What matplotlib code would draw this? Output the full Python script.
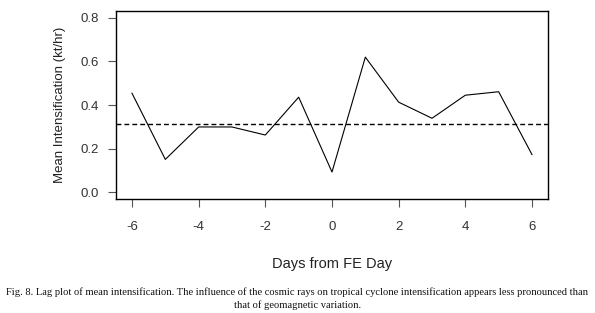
import matplotlib
matplotlib.use("Agg")
import matplotlib.pyplot as plt

# lag data
days = [-6, -5, -4, -3, -2, -1, 0, 1, 2, 3, 4, 5, 6]
mean_int = [0.454, 0.150, 0.299, 0.299, 0.262, 0.436, 0.092,
            0.620, 0.413, 0.339, 0.445, 0.461, 0.172]
overall_mean = 0.314
xticks = [-6, -4, -2, 0, 2, 4, 6]
yticks = [0.0, 0.2, 0.4, 0.6, 0.8]

caption1 = ("Fig. 8. Lag plot of mean intensification. The influence of the cosmic rays on "
            "tropical cyclone intensification appears less pronounced than")
caption2 = "that of geomagnetic variation."

plt.rcParams['font.family'] = ['Liberation Sans', 'DejaVu Sans']

fig = plt.figure(figsize=(5.95, 3.13), dpi=100)
ax = fig.add_axes([116/595, 1 - 199/313, (548-116)/595, (199-11)/313])

ax.plot(days, mean_int, color='black', lw=0.8)
ax.axhline(overall_mean, color='black', lw=1.0, ls=(0, (3.5, 2.2)))

ax.set_xlim(-6.48, 6.48)
ax.set_ylim(-0.032, 0.832)
ax.set_xticks(xticks)
ax.set_xticklabels([str(v) for v in xticks])
ax.set_yticks(yticks)
ax.set_yticklabels(['%.1f' % v for v in yticks])
ax.tick_params(direction='out', length=6, width=0.8, color='#555555',
               labelsize=9.5, labelcolor='#333333')
ax.tick_params(axis='x', pad=10)
ax.tick_params(axis='y', pad=6)
for s in ax.spines.values():
    s.set_linewidth(1.0)
    s.set_color('black')

ax.set_xlabel('Days from FE Day', fontsize=10.5, color='#222222', labelpad=17)
ax.set_ylabel('Mean Intensification (kt/hr)', fontsize=9.5, color='#222222', labelpad=11)

fig.text(0.5, 1 - 291.7/313, caption1, ha='center', va='center',
         family='Liberation Serif', fontsize=7.6, color='#111111')
fig.text(0.5, 1 - 305/313, caption2, ha='center', va='center',
         family='Liberation Serif', fontsize=7.6, color='#111111')

fig.savefig('out.png', dpi=100)
